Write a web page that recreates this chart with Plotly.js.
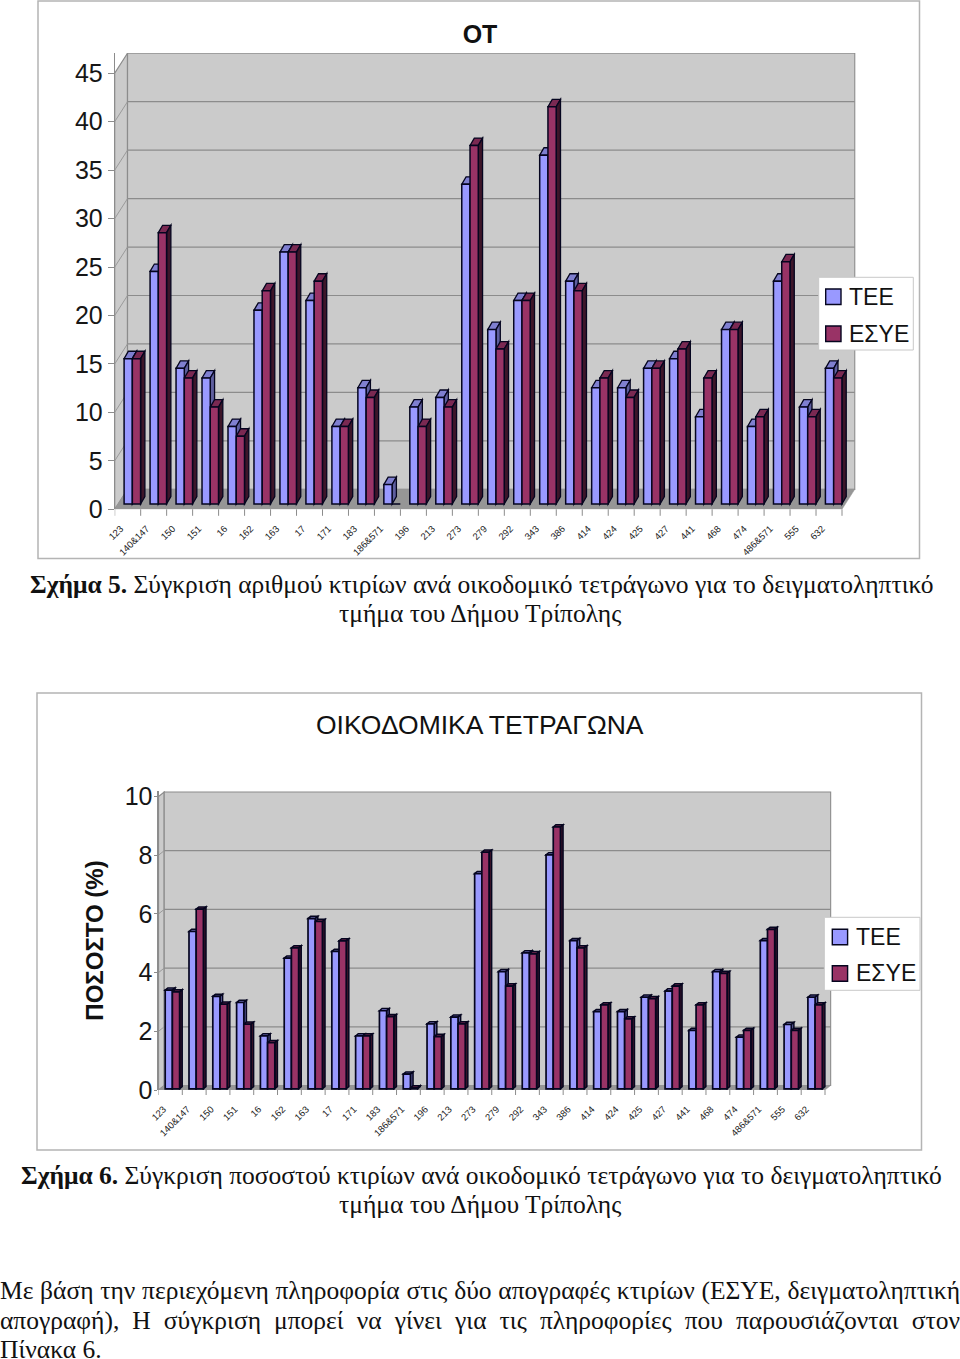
<!DOCTYPE html>
<html><head><meta charset="utf-8">
<script src="https://cdn.plot.ly/plotly-3.0.1.min.js"></script>
<style>
html,body{margin:0;padding:0;background:#fff;width:960px;height:1359px;overflow:hidden}
#p{position:absolute;left:0;top:0;width:960px;height:1359px}
.l{position:absolute;left:0;width:960px;font:25.5px/30px "Liberation Serif",serif;color:#111;white-space:normal}
.j{text-align:justify;text-align-last:justify}
</style></head><body>
<div id="p"></div>
<div class="l j" style="top:1276px">Με βάση την περιεχόμενη πληροφορία στις δύο απογραφές κτιρίων (ΕΣΥΕ, δειγματοληπτική</div>
<div class="l j" style="top:1306px">απογραφή), Η σύγκριση μπορεί να γίνει για τις πληροφορίες που παρουσιάζονται στον</div>
<div class="l" style="top:1340px;line-height:19px">Πίνακα 6.</div>
<script>
const categories = ['123','140&147','150','151','16','162','163','17','171','183','186&571','196','213','273','279','292','343','386','414','424','425','427','441','468','474','486&571','555','632'];
const seriesNames = ['ΤΕΕ','ΕΣΥΕ'];
const countTEE  = [15,24,14,13,8,20,26,21,8,12,2,10,11,33,18,21,36,23,12,12,14,15,9,18,8,23,10,14];
const countESYE = [15,28,13,10,7,22,26,23,8,11,0,8,10,37,16,21,41,22,13,11,14,16,13,18,9,25,9,13];
const pctTEE  = [3.36,5.36,3.15,2.94,1.8,4.45,5.8,4.68,1.8,2.66,0.5,2.21,2.44,7.33,3.99,4.63,7.97,5.05,2.63,2.63,3.12,3.33,1.99,3.99,1.76,5.05,2.19,3.12];
const pctESYE = [3.3,6.12,2.88,2.2,1.57,4.8,5.7,5.04,1.8,2.46,0.03,1.78,2.21,8.06,3.5,4.6,8.92,4.8,2.86,2.38,3.07,3.5,2.86,3.93,1.99,5.43,1.99,2.86];
const ticks1 = [0,5,10,15,20,25,30,35,40,45];
const ticks2 = [0,2,4,6,8,10];
const BLUE=['#9999ff','#7f7fd0','#5e5e9e'], RED=['#993366','#7a2952','#3d1529'];
const W=960,H=1359, P=v=>1-v/H;
const SERIF='Liberation Serif',SANS='Liberation Sans';
const traces=[], shapes=[], annotations=[], layout={};
const note=(t,x,y,a,size,fam)=>({text:t,xref:'paper',yref:'paper',x:x/W,y:P(y),xanchor:a,yanchor:'middle',showarrow:false,
  font:{family:fam,size:size,color:'#111'}});

function chart(c){
  const xa=c.n==1?'xaxis':'xaxis'+c.n, ya=c.n==1?'yaxis':'yaxis'+c.n;
  const xr=c.n==1?'x':'x'+c.n, yr=c.n==1?'y':'y'+c.n;
  const cw=(c.xR-c.xL)/28, pu=c.pxu;
  const X=px=>px/cw, Y=px=>px/pu;
  const wx=X(c.wall[0]), wy=Y(c.wall[1]);
  const xEnd=28, yTop=c.ticks[c.ticks.length-1];
  const poly=(pts,fill,line,lw)=>shapes.push({type:'path',xref:xr,yref:yr,layer:'between',
    path:'M'+pts.map(p=>p[0]+','+p[1]).join('L')+'Z',fillcolor:fill,line:{color:line,width:lw}});
  poly([[0,0],[wx,wy],[wx,yTop+wy],[0,yTop]],'#cbcbcb','#8c8c8c',1.2);
  poly([[wx,wy],[xEnd+wx,wy],[xEnd+wx,yTop+wy],[wx,yTop+wy]],'#cbcbcb','#8c8c8c',1.2);
  poly([[0,0],[wx,wy],[xEnd+wx,wy],[xEnd,0]],'#969696','#969696',0.5);
  c.ticks.slice(1,-1).forEach(t=>{
    shapes.push({type:'line',xref:xr,yref:yr,layer:'between',x0:0,x1:wx,y0:t,y1:t+wy,line:{color:'#9a9a9a',width:1}});
    shapes.push({type:'line',xref:xr,yref:yr,layer:'between',x0:wx,x1:xEnd+wx,y0:t+wy,y1:t+wy,line:{color:'#8c8c8c',width:1.2}});
  });
  for(let i=0;i<=28;i++) shapes.push({type:'line',xref:xr,yref:'paper',layer:'above',x0:i,x1:i,
    y0:P(c.y0),y1:P(c.y0+c.xtick),line:{color:'#8c8c8c',width:1}});
  const b=Y(c.base), w=X(c.bw), off=X(c.boff), dx=X(c.depth[0]), dy=Y(c.depth[1]);
  c.vals[0].forEach((_,i)=>{
    [0,1].forEach(s=>{
      const v=c.vals[s][i]; if(v===0) return;
      const col=s?RED:BLUE, x0=i+off+s*w, x1=x0+w, t=b+v;
      poly([[x0,t],[x0+dx,t+dy],[x1+dx,t+dy],[x1,t]],col[1],'#05051f',c.lw-0.2);
      poly([[x1,b],[x1+dx,b+dy],[x1+dx,t+dy],[x1,t]],col[2],'#05051f',c.lw-0.2);
    });
  });
  [0,1].forEach(s=>traces.push({type:'bar',name:seriesNames[s],x:categories.map((_,i)=>i),y:c.vals[s],
    base:b,width:w,offset:off+s*w,xaxis:xr,yaxis:yr,showlegend:false,
    marker:{color:s?RED[0]:BLUE[0],line:{color:'#05051f',width:c.lw}},hoverinfo:'skip'}));
  layout[xa]={domain:[c.xL/W,(c.xR+c.wall[0]+1)/W],range:[0,28+(c.wall[0]+1)/cw],anchor:yr,showgrid:false,zeroline:false,showline:false,
    tickmode:'array',tickvals:categories.map((_,i)=>i+X(c.lab)),ticktext:categories,tickangle:-45,ticks:'',ticklen:0,ticklabelstandoff:11,
    tickfont:{family:SANS,size:c.xfont,color:'#222'},automargin:false};
  layout[ya]={domain:[P(c.y0),P(c.yT)],range:[0,(c.y0-c.yT)/pu],anchor:xr,showgrid:false,zeroline:false,showline:true,linecolor:'#8c8c8c',linewidth:c.axw,
    tickmode:'array',tickvals:c.ticks,ticks:'outside',ticklen:c.ylen,tickcolor:'#8c8c8c',ticklabelstandoff:c.ystand,
    tickfont:{family:SANS,size:c.yfont,color:'#161616'},automargin:false,title:c.ytitle||undefined};
  const L=c.leg;
  shapes.push({type:'rect',xref:'paper',yref:'paper',layer:'above',x0:L.x0/W,x1:L.x1/W,y0:P(L.y1),y1:P(L.y0),fillcolor:'#fff',line:{color:'#c8c8c8',width:1}});
  [0,1].forEach(s=>{
    shapes.push({type:'rect',xref:'paper',yref:'paper',layer:'above',x0:L.sx/W,x1:(L.sx+15.3)/W,y0:P(L.sy[s]+15.5),y1:P(L.sy[s]),
      fillcolor:s?RED[0]:BLUE[0],line:{color:'#05051f',width:1.4}});
    annotations.push(note(seriesNames[s],L.tx,L.sy[s]+7.5,'left',23,SANS));
  });
}

chart({n:1,xL:114.7,xR:842,y0:509.3,yT:53,pxu:9.69,wall:[12.8,20],ticks:ticks1,vals:[countTEE,countESYE],
  base:5.3,bw:8.25,boff:9.4,depth:[4.3,7.4],lab:6,xtick:6.5,xfont:9.5,yfont:25,axw:1,ylen:6,ystand:0,lw:1.5,
  leg:{x0:818.7,x1:913.3,y0:277.3,y1:350,sx:825.7,sy:[289,326],tx:847}});
chart({n:2,xL:158.5,xR:825,y0:1090,yT:791,pxu:29.35,wall:[5.7,4.5],ticks:ticks2,vals:[pctTEE,pctESYE],
  base:1.2,bw:7.2,boff:6.7,depth:[2.6,2.2],lab:5,xtick:5,xfont:9.5,yfont:25,axw:2,ylen:3,ystand:-4,lw:1.7,
  leg:{x0:824.3,x1:920,y0:917.3,y1:990.3,sx:832.3,sy:[929.3,965.7],tx:854},
  ytitle:{text:'<b>ΠΟΣΟΣΤΟ (%)</b>',font:{family:SANS,size:24,color:'#111'},standoff:14}});

[[38,1,919.5,558.5],[37,693,921.5,1150]].forEach(f=>shapes.push({type:'rect',xref:'paper',yref:'paper',layer:'below',
  x0:f[0]/W,x1:f[2]/W,y0:P(f[3]),y1:P(f[1]),line:{color:'#b4b4b4',width:1.5},fillcolor:'rgba(0,0,0,0)'}));

annotations.push(
    note('ΟΙΚΟΔΟΜΙΚΑ ΤΕΤΡΑΓΩΝΑ',480,725,'center',26.5,SANS),
    note('<b>Σχήμα 5.</b> Σύγκριση αριθμού κτιρίων ανά οικοδομικό τετράγωνο για το δειγματοληπτικό',27.5,584,'left',25.5,SERIF),
    note('τμήμα του Δήμου Τρίπολης',480,614,'center',25.5,SERIF),
    note('<b>Σχήμα 6.</b> Σύγκριση ποσοστού κτιρίων ανά οικοδομικό τετράγωνο για το δειγματοληπτικό',18.5,1175,'left',25.5,SERIF),
    note('τμήμα του Δήμου Τρίπολης',480,1204,'center',25.5,SERIF));
Object.assign(layout,{width:W,height:H,margin:{l:0,r:0,t:0,b:0},paper_bgcolor:'#fff',plot_bgcolor:'rgba(0,0,0,0)',barmode:'overlay',showlegend:false,
  title:{text:'<b>ΟΤ</b>',x:480/W,xanchor:'center',y:P(34),yanchor:'middle',font:{family:SANS,size:25,color:'#111'}},
  shapes,annotations});
Plotly.newPlot('p',traces,layout,{staticPlot:true,displayModeBar:false});
</script></body></html>
